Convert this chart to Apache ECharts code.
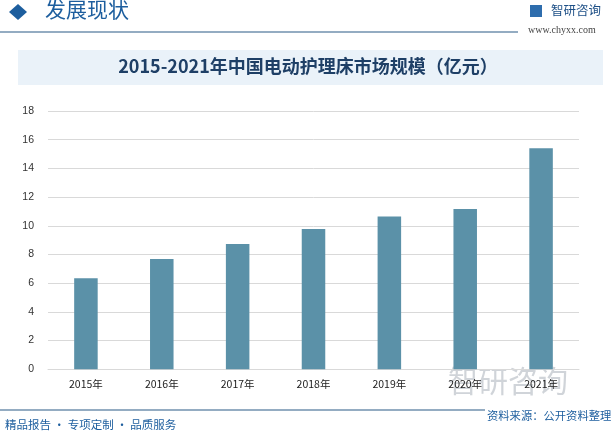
<!DOCTYPE html>
<html><head><meta charset="utf-8">
<script src="https://cdn.jsdelivr.net/npm/echarts@6/dist/echarts.min.js"></script>
<style>html,body{margin:0;padding:0;background:#fff}#c{width:616px;height:435px}</style>
</head><body><div id="c"></div>
<script>
const categories = ['2015年','2016年','2017年','2018年','2019年','2020年','2021年'];
const values = [6.35, 7.68, 8.73, 9.78, 10.64, 11.17, 15.4];
const yTicks = [0, 2, 4, 6, 8, 10, 12, 14, 16, 18];
const titleText = '2015-2021年中国电动护理床市场规模（亿元）';

const cjk = '"Noto Sans CJK SC", "Noto Sans", sans-serif';
const chart = echarts.init(document.getElementById('c'), null, {renderer: 'canvas'});
chart.setOption({
  backgroundColor: '#fff',
  animation: false,
  grid: {left: 48, right: 37, top: 111, bottom: 65.7, containLabel: false},
  xAxis: {
    type: 'category', data: categories,
    axisLine: {show: true, lineStyle: {color: '#d9d9d9'}},
    axisTick: {show: false},
    axisLabel: {color: '#222', fontSize: 10.5, fontFamily: cjk, margin: 9}
  },
  yAxis: {
    type: 'value', min: yTicks[0], max: yTicks[yTicks.length - 1], interval: 2,
    axisLine: {show: false}, axisTick: {show: false},
    axisLabel: {color: '#333', fontSize: 10.5, fontFamily: 'Liberation Sans, sans-serif', margin: 14},
    splitLine: {lineStyle: {color: '#d9d9d9', width: 1}}
  },
  series: [{
    type: 'bar', data: values, barWidth: '31%',
    itemStyle: {color: '#5B91A8'}
  }],
  graphic: [
    {type: 'rect', shape: {x: 18, y: 50, width: 585, height: 35}, style: {fill: '#EAF2F9'}, z: -1},
    {type: 'text', left: 'center', top: 57, style: {text: titleText, font: '600 18px ' + cjk, fill: '#1E3F66'}},
    {type: 'polygon', shape: {points: [[9, 12], [18, 4], [27, 12], [18, 20]]}, style: {fill: '#1D5E9E'}},
    {type: 'text', left: 45, top: -1, style: {text: '发展现状', font: '21px ' + cjk, fill: '#1D5E9E'}},
    {type: 'line', shape: {x1: 0, y1: 32, x2: 518, y2: 32}, style: {stroke: '#2B5B86', lineWidth: 1.2}},
    {type: 'rect', shape: {x: 530, y: 5, width: 12, height: 12}, style: {fill: '#2E6DAD'}},
    {type: 'text', left: 551, top: 4, style: {text: '智研咨询', font: '12.5px ' + cjk, fill: '#1D4F86'}},
    {type: 'text', left: 528, top: 25, style: {text: 'www.chyxx.com', font: '10px "Liberation Serif", serif', fill: '#444'}},
    {type: 'text', left: 448, top: 366, style: {text: '智研咨询', font: '30px ' + cjk, fill: 'rgba(150,160,170,0.45)'}, z: -1},
    {type: 'line', shape: {x1: 0, y1: 410, x2: 485, y2: 410}, style: {stroke: '#2B5B86', lineWidth: 1.2}},
    {type: 'text', left: 487, top: 410, style: {text: '资料来源：公开资料整理', font: '11.3px ' + cjk, fill: '#1D5E9E'}},
    {type: 'text', left: 5, top: 419, style: {text: '精品报告 · 专项定制 · 品质服务', font: '11.5px ' + cjk, fill: '#1D5E9E'}}
  ]
});
</script></body></html>
